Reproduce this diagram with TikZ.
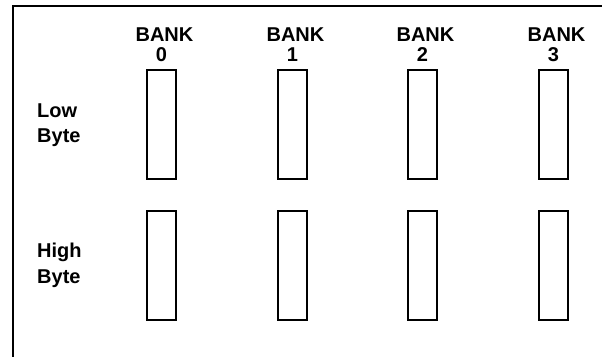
\documentclass[tikz,border=0pt]{standalone}
\usepackage{fontspec}
\setmainfont{Liberation Sans}
\begin{document}
\begin{tikzpicture}[x=1pt,y=-1pt,
  cell/.style={draw,line width=2pt,minimum width=29pt,minimum height=109pt,inner sep=0pt},
  lbl/.style={font=\fontsize{20}{24}\selectfont\bfseries,inner sep=0pt},
  frameline/.style={line width=2pt}]
\useasboundingbox (0,0) rectangle (602,356);
% outer frame: top and left edges
\coordinate (ftr) at (606,6);
\coordinate (ftl) at (13,6);
\coordinate (fbl) at (13,358);
\draw[frameline] (ftr) -- (ftl) -- (fbl);
% four banks, each with a low-byte and a high-byte cell
\foreach \i/\x in {0/161.5,1/292.5,2/422.5,3/553.5} {
  \node[cell] (lo\i) at (\x,124.5) {};
  \node[cell] (hi\i) at (\x,265.5) {};
  \node[lbl,anchor=base] (bank\i) at (\x+3,41) {BANK};
  \node[lbl,anchor=base] (num\i) at (\x,61) {\i};
}
% row labels
\node[lbl,anchor=base west] (lowA) at (37,117) {Low};
\node[lbl,anchor=base west] (lowB) at (37,142) {Byte};
\node[lbl,anchor=base west] (highA) at (37,257) {High};
\node[lbl,anchor=base west] (highB) at (37,283) {Byte};
\end{tikzpicture}
\end{document}
